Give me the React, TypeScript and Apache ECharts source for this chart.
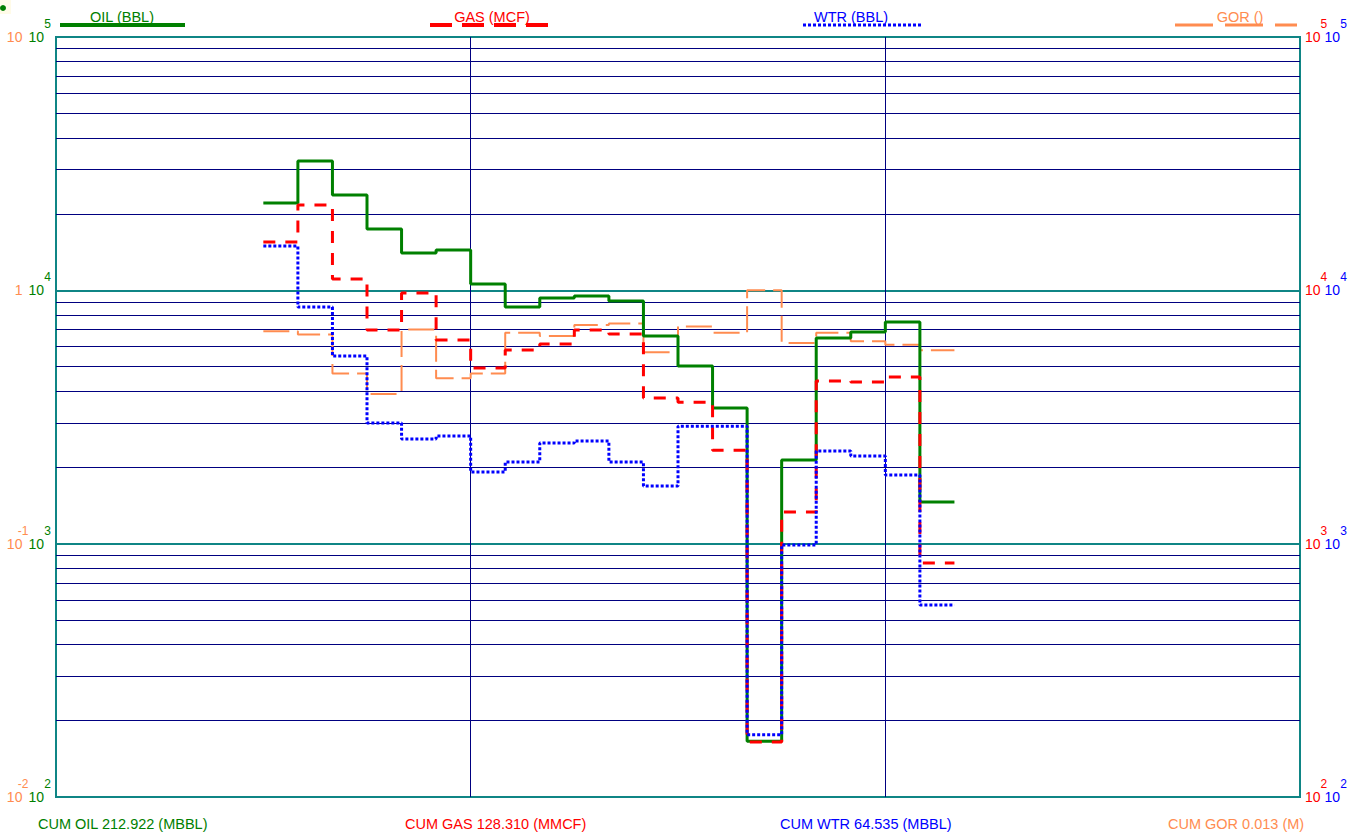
import React, { useEffect, useRef } from 'react';
import * as echarts from 'echarts';

// Month index of each production step (x axis runs 0..36 months, 12 per division)
const months = [6, 7, 8, 9, 10, 11, 12, 13, 14, 15, 16, 17, 18, 19, 20, 21, 22, 23, 24, 25];
const oil = [22100, 32400, 23800, 17460, 14040, 14420, 10590, 8590, 9330, 9500, 9080, 6600, 5030, 3430, 166, 2140, 6490, 6850, 7500, 1460];
const gas = [15520, 21700, 11090, 6970, 9760, 6370, 4940, 5810, 6140, 6970, 6720, 3760, 3620, 2340, 165, 1333, 4385, 4345, 4550, 839];
const water = [14960, 8590, 5500, 2995, 2590, 2660, 1918, 2100, 2495, 2540, 2100, 1689, 2910, 2910, 176, 988, 2322, 2218, 1866, 573];
const gor = [0.69, 0.67, 0.47, 0.39, 0.70, 0.45, 0.47, 0.68, 0.66, 0.73, 0.74, 0.57, 0.72, 0.68, 1.0, 0.62, 0.68, 0.63, 0.61, 0.58];

const legendNames = ['OIL (BBL)', 'GAS (MCF)', 'WTR (BBL)', 'GOR ()'];
const cumTexts = ['CUM OIL 212.922 (MBBL)', 'CUM GAS 128.310 (MMCF)', 'CUM WTR 64.535 (MBBL)', 'CUM GOR 0.013 (M)'];

const GREEN = '#008000';
const RED = '#ff0000';
const BLUE = '#0000ff';
const ORANGE = '#ff8c50';
const TEAL = '#0f8585';
const NAVY = '#000080';
const FONT = '"Liberation Sans", Arial, sans-serif';
const TXT = `14.5px ${FONT}`;

export default function App() {
  const ref = useRef<HTMLDivElement>(null);
  useEffect(() => {
    const chart = echarts.init(ref.current!, null, { renderer: 'svg' });
    const toSteps = (vals: number[]) => {
      const pts = months.map((m, i) => [m, vals[i]]);
      pts.push([months[months.length - 1] + 1, vals[vals.length - 1]]);
      return pts;
    };
    const sup = (color: string, width: number) => ({ color, fontSize: 12, fontFamily: FONT, width, padding: [0, 0, 26, 0] });
    const base = (color: string) => ({ color, fontSize: 14, fontFamily: FONT });

    const option: any = {
      animation: false,
      grid: { left: 56, top: 37, width: 1244, height: 760, show: true, borderColor: TEAL, borderWidth: 2, backgroundColor: 'transparent' },
      xAxis: {
        type: 'value', min: 0, max: 36, interval: 12,
        axisLine: { show: false }, axisTick: { show: false }, axisLabel: { show: false },
        splitLine: { show: true, lineStyle: { color: ['transparent', NAVY, NAVY, 'transparent'], width: 1 } },
      },
      yAxis: [
        {
          type: 'log', logBase: 10, min: 100, max: 100000, position: 'left',
          axisLine: { show: false }, axisTick: { show: false },
          axisLabel: {
            margin: 5,
            formatter: (v: number) => {
              const e = Math.round(Math.log10(v));
              const ge = e - 4;
              const g = ge === 1 ? '{o|10}{sp| }' : ge === 0 ? '{o|1}{sp| }' : `{o|10}{os|${ge}}`;
              return `${g}{g|10}{gs|${e}}`;
            },
            rich: {
              o: base(ORANGE), os: sup(ORANGE, 6), sp: { width: 6, fontSize: 12 },
              g: base(GREEN), gs: sup(GREEN, 7),
            },
          },
          splitLine: { show: true, lineStyle: { color: ['transparent', TEAL, TEAL, 'transparent'], width: 2 } },
          minorTick: { show: false, splitNumber: 9 },
          minorSplitLine: { show: true, lineStyle: { color: NAVY, width: 1 } },
        },
        {
          type: 'log', logBase: 10, min: 100, max: 100000, position: 'right',
          axisLine: { show: false }, axisTick: { show: false },
          axisLabel: {
            margin: 5,
            formatter: (v: number) => {
              const e = Math.round(Math.log10(v));
              return `{r|10}{rs|${e}}{b|10}{bs|${e}}`;
            },
            rich: { r: base(RED), rs: sup(RED, 4), b: base(BLUE), bs: sup(BLUE, 7) },
          },
          splitLine: { show: false },
        },
        { type: 'log', logBase: 10, min: 0.01, max: 10, show: false },
      ],
      series: [
        { name: 'GOR', type: 'line', yAxisIndex: 2, step: 'end', symbol: 'none', data: toSteps(gor), lineStyle: { color: ORANGE, width: 2, type: [26, 8] } },
        { name: 'OIL', type: 'line', yAxisIndex: 0, step: 'end', symbol: 'none', data: toSteps(oil), lineStyle: { color: GREEN, width: 3 } },
        { name: 'GAS', type: 'line', yAxisIndex: 1, step: 'end', symbol: 'none', data: toSteps(gas), lineStyle: { color: RED, width: 3, type: [12, 10] } },
        { name: 'WTR', type: 'line', yAxisIndex: 1, step: 'end', symbol: 'none', data: toSteps(water), lineStyle: { color: BLUE, width: 3, type: [3, 2] } },
      ],
      graphic: [
        { type: 'rect', shape: { x: 0, y: 0, width: 11, height: 14 }, style: { fill: '#fffbe8' } },
        { type: 'circle', shape: { cx: 3, cy: 8, r: 3 }, style: { fill: GREEN } },
        { type: 'text', x: 122, y: 17, style: { text: legendNames[0], fill: GREEN, font: TXT, textAlign: 'center', textVerticalAlign: 'middle' } },
        { type: 'line', shape: { x1: 60, y1: 25, x2: 185, y2: 25 }, style: { stroke: GREEN, lineWidth: 4 } },
        { type: 'text', x: 492, y: 17, style: { text: legendNames[1], fill: RED, font: TXT, textAlign: 'center', textVerticalAlign: 'middle' } },
        { type: 'line', shape: { x1: 430, y1: 25, x2: 555, y2: 25 }, style: { stroke: RED, lineWidth: 4, lineDash: [22, 10] } },
        { type: 'text', x: 851, y: 17, style: { text: legendNames[2], fill: BLUE, font: TXT, textAlign: 'center', textVerticalAlign: 'middle' } },
        { type: 'line', shape: { x1: 803, y1: 25, x2: 922, y2: 25 }, style: { stroke: BLUE, lineWidth: 3, lineDash: [3, 2] } },
        { type: 'text', x: 1240, y: 17, style: { text: legendNames[3], fill: ORANGE, font: TXT, textAlign: 'center', textVerticalAlign: 'middle' } },
        { type: 'line', shape: { x1: 1175, y1: 25, x2: 1297, y2: 25 }, style: { stroke: ORANGE, lineWidth: 3, lineDash: [38, 12] } },
        { type: 'text', x: 38, y: 824, style: { text: cumTexts[0], fill: GREEN, font: TXT, textAlign: 'left', textVerticalAlign: 'middle' } },
        { type: 'text', x: 405, y: 824, style: { text: cumTexts[1], fill: RED, font: TXT, textAlign: 'left', textVerticalAlign: 'middle' } },
        { type: 'text', x: 780, y: 824, style: { text: cumTexts[2], fill: BLUE, font: TXT, textAlign: 'left', textVerticalAlign: 'middle' } },
        { type: 'text', x: 1168, y: 824, style: { text: cumTexts[3], fill: ORANGE, font: TXT, textAlign: 'left', textVerticalAlign: 'middle' } },
      ],
    };
    chart.setOption(option);
    return () => chart.dispose();
  }, []);
  return <div ref={ref} style={{ position: 'fixed', left: 0, top: 0, width: 1362, height: 837, background: '#ffffff' }} />;
}
